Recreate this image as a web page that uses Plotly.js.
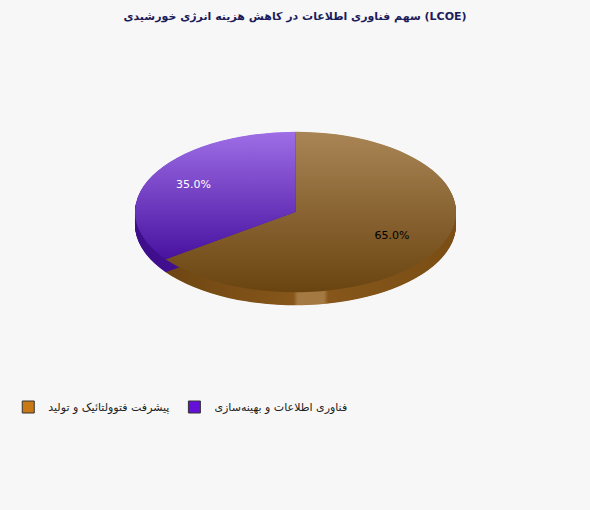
<!DOCTYPE html>
<html>
<head>
<meta charset="utf-8">
<script src="https://cdn.plot.ly/plotly-3.0.1.min.js"></script>
<style>
html,body{margin:0;padding:0;background:#f7f7f7;}
#chart{width:590px;height:510px;}
</style>
</head>
<body>
<div id="chart"></div>
<script>
const chartTitle = "سهم فناوری اطلاعات در کاهش هزینه انرژی خورشیدی (LCOE)";
const categories = ["پیشرفت فتوولتائیک و تولید", "فناوری اطلاعات و بهینه‌سازی"];
const shares = [65, 35];
const legendColors = ["#c87814", "#6410d8"];

const W = 590, H = 510;
const cx = 295.5, cy = 212, rx = 160.5, squash = 0.5, depth = 13, labelPush = 1.35;

const trace = {
  type: "pie",
  labels: categories,
  values: shares,
  sort: false,
  direction: "clockwise",
  rotation: 0,
  texttemplate: "%{percent:.1%}",
  textposition: "inside",
  insidetextorientation: "horizontal",
  textfont: {family: "DejaVu Sans", size: 11, color: ["#000000", "#ffffff"]},
  marker: {colors: legendColors, line: {color: "#333333", width: 1}},
  hoverinfo: "label+percent",
  domain: {x: [(cx - rx) / W, (cx + rx) / W], y: [(H - (cy + rx)) / H, (H - (cy - rx)) / H]}
};

const layout = {
  width: W, height: H,
  margin: {l: 0, r: 0, t: 0, b: 0},
  paper_bgcolor: "#f7f7f7",
  plot_bgcolor: "#f7f7f7",
  font: {family: "DejaVu Sans", size: 11, color: "#222"},
  title: {text: "<b>" + chartTitle + "</b>", x: 0.5, xanchor: "center", y: 1 - 16 / H, yanchor: "middle",
          font: {family: "DejaVu Sans", size: 11, color: "#1c1c5c"}},
  showlegend: true,
  legend: {orientation: "h", x: 0.014, xanchor: "left", y: 1 - 407 / H, yanchor: "middle",
           font: {family: "DejaVu Sans", size: 11, color: "#222"}, itemwidth: 30, traceorder: "normal"}
};

Plotly.newPlot("chart", [trace], layout, {displayModeBar: false, staticPlot: true}).then(gd => {
  const svgNS = "http://www.w3.org/2000/svg";
  const svg = gd.querySelector("svg.main-svg");
  let defs = svg.querySelector("defs");
  if (!defs) { defs = document.createElementNS(svgNS, "defs"); svg.insertBefore(defs, svg.firstChild); }
  function grad(id, stops, vertical) {
    const g = document.createElementNS(svgNS, "linearGradient");
    g.setAttribute("id", id);
    g.setAttribute("x1", "0"); g.setAttribute("y1", "0");
    g.setAttribute("x2", vertical ? "0" : "1"); g.setAttribute("y2", vertical ? "1" : "0");
    stops.forEach(s => {
      const st = document.createElementNS(svgNS, "stop");
      st.setAttribute("offset", s[0]); st.setAttribute("stop-color", s[1]);
      g.appendChild(st);
    });
    defs.appendChild(g);
  }
  grad("gBrown", [["0", "#a98556"], ["1", "#6a4410"]], true);
  grad("gPurple", [["0", "#9e6ee6"], ["1", "#4812a0"]], true);
  grad("sBrown", [["0", "#6e4612"], ["0.44", "#86561a"], ["0.455", "#a47a42"], ["0.545", "#a47a42"], ["0.56", "#86561a"], ["1", "#7a4e14"]], false);
  grad("sPurple", [["0", "#3e0e8a"], ["1", "#4812a0"]], false);
  const faces = ["url(#gBrown)", "url(#gPurple)"];
  const sides = ["url(#sBrown)", "url(#sPurple)"];

  const traceG = svg.querySelector(".pielayer .trace");
  const slices = Array.from(traceG.querySelectorAll("g.slice"));
  const sideG = document.createElementNS(svgNS, "g");
  slices.forEach((s, i) => {
    const p = s.querySelector("path.surface");
    const tr = s.getAttribute("transform") || "";
    const pTr = p.getAttribute("transform") || "";
    for (let k = depth / squash; k >= 1; k -= 1) {
      const c = p.cloneNode(true);
      c.setAttribute("transform", "translate(0," + k + ") " + pTr);
      c.style.fill = sides[i];
      c.style.stroke = "none";
      const wrap = document.createElementNS(svgNS, "g");
      wrap.setAttribute("transform", tr);
      wrap.appendChild(c);
      sideG.appendChild(wrap);
    }
    p.style.fill = faces[i];
    p.style.stroke = "none";
  });
  traceG.insertBefore(sideG, traceG.firstChild);

  const pl = svg.querySelector(".pielayer");
  pl.setAttribute("transform", "matrix(1,0,0," + squash + ",0," + (cy * (1 - squash)) + ")");
  traceG.querySelectorAll("g.slicetext text").forEach(t => {
    let tt = t.getAttribute("transform") || "";
    tt = tt.replace(/translate\(\s*([-\d.e]+)[ ,]+([-\d.e]+)\s*\)/, (m, x, y) => {
      const nx = cx + (parseFloat(x) - cx) * labelPush;
      const ny = cy + (parseFloat(y) - cy) * labelPush;
      return "translate(" + nx + "," + ny + ")";
    });
    t.setAttribute("transform", tt + " scale(1," + (1 / squash) + ")");
  });

  // bigger legend swatches
  svg.querySelectorAll(".legend .legendpoints path").forEach(p => {
    p.setAttribute("transform", (p.getAttribute("transform") || "") + " scale(1.25)");
    p.style.strokeWidth = "0.8px";
  });
});
</script>
</body>
</html>
